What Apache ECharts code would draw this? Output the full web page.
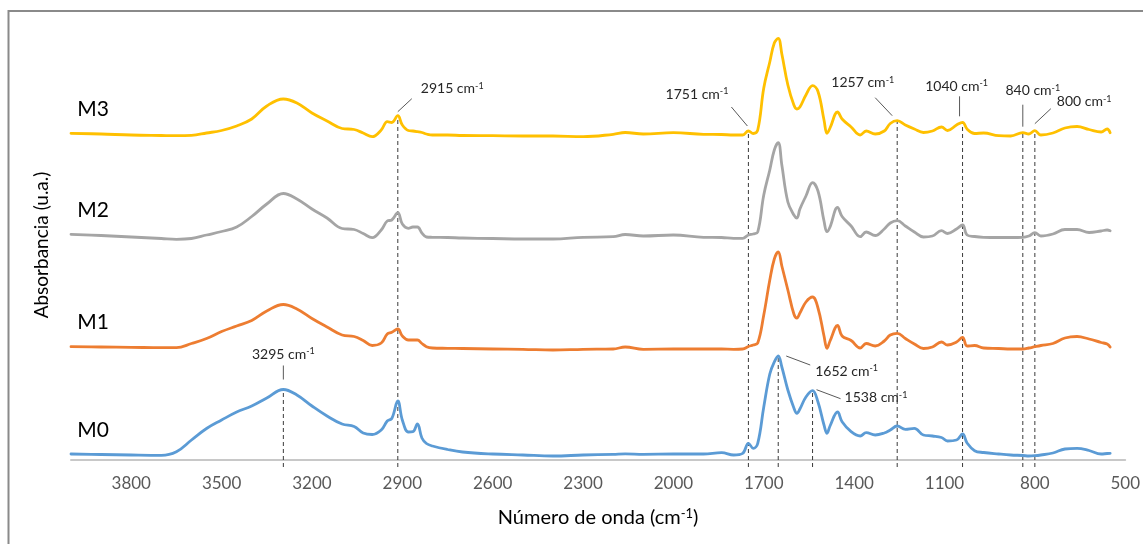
<!DOCTYPE html>
<html>
<head>
<meta charset="utf-8">
<script src="https://cdn.jsdelivr.net/npm/echarts@6/dist/echarts.min.js"></script>
<style>
  html, body { margin: 0; padding: 0; background: #ffffff; }
  #chart { width: 1143px; height: 544px; }
</style>
</head>
<body>
<div id="chart"></div>
<script>
// FTIR spectra (stacked, arbitrary absorbance units) sampled on a shared wavenumber grid
const wavenumbers = [4000, 3900, 3800, 3700, 3650, 3600, 3550, 3500, 3450, 3400,
  3350, 3295, 3250, 3200, 3150, 3100, 3060, 3030, 3000, 2970,
  2950, 2935, 2915, 2900, 2880, 2865, 2850, 2835, 2820, 2800,
  2750, 2700, 2600, 2500, 2400, 2300, 2200, 2160, 2100, 2000,
  1900, 1840, 1800, 1770, 1751, 1735, 1720, 1700, 1680, 1665,
  1652, 1640, 1620, 1600, 1590, 1580, 1560, 1538, 1520, 1500,
  1490, 1480, 1455, 1440, 1410, 1380, 1360, 1330, 1300, 1280,
  1257, 1230, 1200, 1170, 1140, 1110, 1090, 1060, 1040, 1025,
  1000, 970, 920, 880, 840, 820, 800, 780, 740, 700,
  660, 620, 580, 560, 550];

const m3 = [3.267, 3.26, 3.25, 3.245, 3.243, 3.247, 3.27, 3.295, 3.34, 3.41,
  3.54, 3.61, 3.57, 3.47, 3.39, 3.315, 3.305, 3.27, 3.233, 3.30,
  3.383, 3.375, 3.443, 3.35, 3.295, 3.29, 3.283, 3.275, 3.26, 3.25,
  3.25, 3.245, 3.243, 3.24, 3.24, 3.233, 3.257, 3.275, 3.26, 3.273,
  3.257, 3.255, 3.25, 3.25, 3.29, 3.265, 3.30, 3.72, 3.98, 4.17,
  4.217, 4.06, 3.75, 3.55, 3.51, 3.53, 3.65, 3.743, 3.685, 3.40,
  3.267, 3.32, 3.48, 3.41, 3.33, 3.25, 3.29, 3.26, 3.29, 3.365,
  3.393, 3.35, 3.31, 3.275, 3.29, 3.33, 3.295, 3.35, 3.377, 3.31,
  3.265, 3.27, 3.243, 3.24, 3.273, 3.26, 3.293, 3.25, 3.27, 3.32,
  3.335, 3.305, 3.28, 3.31, 3.273];

const m2 = [2.257, 2.245, 2.23, 2.215, 2.207, 2.215, 2.25, 2.285, 2.33, 2.435,
  2.56, 2.665, 2.61, 2.51, 2.42, 2.315, 2.305, 2.265, 2.223, 2.30,
  2.39, 2.40, 2.473, 2.36, 2.317, 2.33, 2.33, 2.27, 2.23, 2.227,
  2.225, 2.22, 2.215, 2.21, 2.21, 2.227, 2.233, 2.255, 2.24, 2.25,
  2.227, 2.225, 2.217, 2.217, 2.25, 2.26, 2.28, 2.65, 2.90, 3.10,
  3.173, 2.95, 2.58, 2.45, 2.42, 2.51, 2.64, 2.773, 2.69, 2.39,
  2.283, 2.33, 2.527, 2.435, 2.34, 2.233, 2.28, 2.245, 2.31, 2.37,
  2.393, 2.34, 2.28, 2.23, 2.24, 2.293, 2.265, 2.31, 2.35, 2.25,
  2.235, 2.227, 2.225, 2.225, 2.227, 2.24, 2.273, 2.24, 2.26, 2.305,
  2.305, 2.275, 2.29, 2.30, 2.293];

const m1 = [1.133, 1.13, 1.127, 1.123, 1.123, 1.165, 1.215, 1.285, 1.34, 1.395,
  1.49, 1.555, 1.51, 1.415, 1.33, 1.25, 1.235, 1.195, 1.145, 1.17,
  1.26, 1.277, 1.31, 1.24, 1.20, 1.20, 1.20, 1.165, 1.133, 1.12,
  1.117, 1.115, 1.11, 1.107, 1.10, 1.107, 1.11, 1.13, 1.107, 1.11,
  1.11, 1.11, 1.107, 1.11, 1.135, 1.15, 1.17, 1.45, 1.80, 2.01,
  2.08, 1.94, 1.70, 1.46, 1.42, 1.47, 1.58, 1.63, 1.52, 1.24,
  1.117, 1.19, 1.345, 1.24, 1.195, 1.12, 1.165, 1.14, 1.19, 1.25,
  1.267, 1.215, 1.16, 1.115, 1.13, 1.18, 1.15, 1.18, 1.227, 1.14,
  1.145, 1.12, 1.115, 1.11, 1.11, 1.12, 1.133, 1.145, 1.165, 1.22,
  1.235, 1.21, 1.175, 1.16, 1.13];

const m0 = [0.06, 0.055, 0.05, 0.047, 0.083, 0.20, 0.315, 0.40, 0.48, 0.54,
  0.62, 0.705, 0.65, 0.54, 0.44, 0.36, 0.335, 0.27, 0.255, 0.30,
  0.39, 0.415, 0.59, 0.40, 0.28, 0.283, 0.36, 0.22, 0.165, 0.14,
  0.105, 0.08, 0.06, 0.05, 0.04, 0.05, 0.057, 0.062, 0.057, 0.06,
  0.06, 0.073, 0.05, 0.067, 0.167, 0.117, 0.167, 0.53, 0.86, 0.98,
  1.04, 0.93, 0.70, 0.52, 0.467, 0.51, 0.63, 0.693, 0.58, 0.35,
  0.267, 0.34, 0.48, 0.383, 0.283, 0.24, 0.273, 0.25, 0.27, 0.30,
  0.34, 0.307, 0.317, 0.25, 0.24, 0.225, 0.19, 0.20, 0.26, 0.17,
  0.093, 0.075, 0.06, 0.05, 0.045, 0.04, 0.043, 0.05, 0.07, 0.11,
  0.117, 0.095, 0.06, 0.065, 0.067];

const sampleNames = ['M0', 'M1', 'M2', 'M3'];
const sampleValues = { M0: m0, M1: m1, M2: m2, M3: m3 };
const sampleColors = { M0: '#5B9BD5', M1: '#ED7D31', M2: '#A5A5A5', M3: '#FFC000' };

// Marked absorption bands and the spectrum each guide line reaches
const peakWavenumbers = [3295, 2915, 1751, 1652, 1538, 1257, 1040, 840, 800];
const peakOnSample = ['M0', 'M3', 'M3', 'M0', 'M0', 'M3', 'M3', 'M3', 'M3'];

const xTickStart = 500, xTickStep = 300, xEnd = 4000;

// Callout placement (pixel offsets from the top of each guide line)
const calloutLayout = [
  { leader: [0, -10, 0, -24], label: [0, -35], align: 'center' },
  { leader: [0, -4, 14, -17], label: [23, -27], align: 'left' },
  { leader: [-1, -5, -17, -24], label: [-20, -37], align: 'right' },
  { leader: [8, 0, 32, 9], label: [37, 15], align: 'left' },
  { leader: [4, -1, 28, 8], label: [32, 7], align: 'left' },
  { leader: [-5, -5, -22, -23], label: [-3, -38], align: 'right' },
  { leader: [-3, -6, -3, -26], label: [-6, -36], align: 'center' },
  { leader: [0, -6, 0, -28], label: [10, -42], align: 'center' },
  { leader: [0, -7, 16, -22], label: [22, -29], align: 'left' }
];

const FONT = 'Lato, "Open Sans", sans-serif';

const peakData = peakWavenumbers.map((w, i) => {
  const vals = sampleValues[peakOnSample[i]];
  return [w, vals[wavenumbers.indexOf(w)]];
});

const lineSeries = sampleNames.map(name => {
  const vals = sampleValues[name];
  return {
    name: name,
    type: 'line',
    data: wavenumbers.map((w, i) => [w, vals[i]]),
    showSymbol: false,
    smooth: 0.4,
    lineStyle: { color: sampleColors[name], width: 2.8, join: 'round', cap: 'round' },
    itemStyle: { color: sampleColors[name] },
    silent: true,
    z: 3,
    markPoint: {
      symbol: 'circle',
      symbolSize: 0,
      silent: true,
      data: [{ coord: [wavenumbers[0], vals[0]] }],
      label: {
        show: true,
        position: 'inside',
        offset: [22, -24],
        formatter: () => name,
        color: '#000000',
        fontSize: 21,
        fontFamily: FONT
      }
    }
  };
});

const calloutSeries = {
  type: 'custom',
  coordinateSystem: 'cartesian2d',
  data: peakData,
  encode: { x: 0, y: 1 },
  clip: false,
  silent: true,
  z: 2,
  renderItem: function (params, api) {
    const i = params.dataIndex;
    const w = api.value(0);
    const tip = api.coord([w, api.value(1)]);
    const base = api.coord([w, 0]);
    const L = calloutLayout[i];
    return {
      type: 'group',
      children: [
        {
          type: 'line',
          shape: { x1: tip[0], y1: base[1] + 7, x2: tip[0], y2: tip[1] },
          style: { stroke: '#3a3a3a', lineWidth: 1, lineDash: [4, 3] }
        },
        {
          type: 'line',
          shape: {
            x1: tip[0] + L.leader[0], y1: tip[1] + L.leader[1],
            x2: tip[0] + L.leader[2], y2: tip[1] + L.leader[3]
          },
          style: { stroke: '#595959', lineWidth: 1 }
        },
        {
          type: 'text',
          x: tip[0] + L.label[0],
          y: tip[1] + L.label[1],
          style: {
            text: w + ' cm{s|-1}',
            fill: '#262626',
            fontSize: 14,
            fontFamily: FONT,
            align: L.align,
            verticalAlign: 'middle',
            rich: {
              s: { fontSize: 9, fontFamily: FONT, fill: '#262626', verticalAlign: 'top', padding: [0, 0, 6, 0] }
            }
          }
        }
      ]
    };
  }
};

const chart = echarts.init(document.getElementById('chart'), null, { renderer: 'canvas' });
chart.setOption({
  animation: false,
  backgroundColor: '#ffffff',
  grid: { left: 71, right: 15.5, top: 30, bottom: 84 },
  graphic: [{
    type: 'rect',
    shape: { x: 8.5, y: 11, width: 1160, height: 560 },
    style: { fill: 'none', stroke: '#8a8a8a', lineWidth: 2 },
    silent: true
  }],
  xAxis: {
    type: 'value',
    inverse: true,
    min: xTickStart,
    max: xEnd,
    interval: xTickStep,
    axisLine: { show: true, onZero: false, lineStyle: { color: '#C8C8C8', width: 2 } },
    axisTick: { show: false },
    splitLine: { show: false },
    axisLabel: {
      color: '#595959', fontSize: 17, fontFamily: FONT, margin: 15, showMaxLabel: false,
      formatter: v => String(v)
    },
    name: 'Número de onda (cm{s|-1})',
    nameLocation: 'middle',
    nameGap: 47,
    nameTextStyle: {
      color: '#000000', fontSize: 20, fontFamily: FONT,
      rich: { s: { fontSize: 13, fontFamily: FONT, color: '#000000', verticalAlign: 'top', padding: [0, 0, 8, 0] } }
    }
  },
  yAxis: {
    type: 'value',
    min: 0,
    max: 4.3,
    axisLine: { show: false },
    axisTick: { show: false },
    axisLabel: { show: false },
    splitLine: { show: false },
    name: 'Absorbancia (u.a.)',
    nameLocation: 'middle',
    nameRotate: 90,
    nameGap: 20,
    nameTextStyle: { color: '#000000', fontSize: 19, fontFamily: FONT }
  },
  series: lineSeries.concat([calloutSeries])
});
</script>
</body>
</html>
